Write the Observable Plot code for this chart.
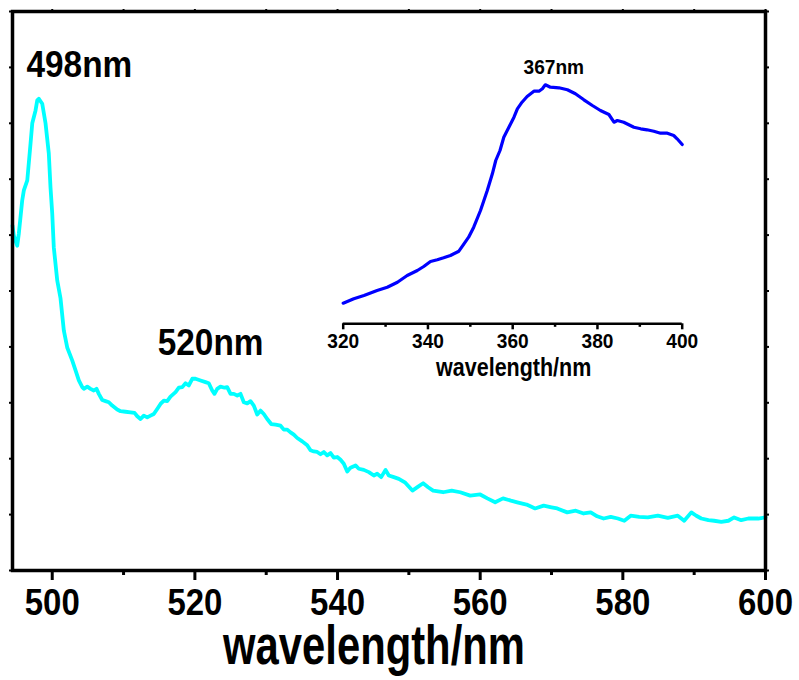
<!DOCTYPE html>
<html><head><meta charset="utf-8">
<script src="https://cdn.jsdelivr.net/npm/d3@7"></script>
<script src="https://cdn.jsdelivr.net/npm/@observablehq/plot@0.6"></script>
<style>
body{margin:0;background:#fff;}
#wrap{position:relative;width:799px;height:680px;overflow:hidden;}
#inset{position:absolute;left:300px;top:40px;}
</style></head><body><div id="wrap"><div id="main"></div><div id="inset"></div></div>
<script>
// Main spectrum (cyan): wavelength (nm) and intensity (a.u., in tick units)
const mainWavelength = [494.43,494.62,495.09,495.32,495.79,496.02,496.50,496.96,497.20,497.66,497.90,498.12,498.60,499.06,499.52,499.76,500.00,500.22,500.70,501.16,501.63,502.10,502.80,503.27,503.73,504.21,504.43,504.91,505.37,505.83,506.21,506.53,507.01,507.47,507.94,508.41,509.11,509.58,510.28,510.98,511.54,511.92,512.38,512.84,513.32,513.78,514.24,514.72,515.18,515.65,516.12,516.58,517.29,517.75,518.23,518.69,519.15,519.63,520.09,520.79,521.49,521.95,522.43,522.75,523.13,523.59,524.16,524.53,525.00,525.46,525.94,526.40,526.86,527.34,527.80,528.26,528.74,529.20,529.66,530.14,530.70,531.31,532.01,532.47,532.95,533.41,533.87,534.35,535.05,535.75,536.21,536.67,537.15,537.61,538.08,538.55,539.02,539.48,539.96,540.42,540.88,541.36,541.82,542.52,542.98,543.68,544.39,545.09,545.56,546.12,546.73,547.19,547.89,548.59,549.5,550.5,551.3,552.0,552.7,553.4,554.8,556.0,557.2,558.6,560.0,561.0,562.1,563.2,564.3,565.2,566.5,567.7,568.9,570.0,570.8,572.2,573.4,574.5,575.5,576.4,577.3,578.3,579.3,580.2,581.1,582.3,583.5,584.9,586.3,587.7,588.6,589.6,590.3,591.0,592.0,592.8,593.8,594.8,595.6,596.6,597.6,599.0,600.0];
const mainIntensity = [6.17,5.99,5.81,6.03,6.62,6.80,6.98,7.64,8.00,8.23,8.41,8.44,8.35,8.00,7.46,6.85,6.39,5.78,5.19,4.87,4.29,3.99,3.76,3.58,3.40,3.28,3.25,3.29,3.25,3.22,3.25,3.16,3.05,3.03,3.01,2.95,2.88,2.85,2.84,2.83,2.82,2.76,2.71,2.77,2.74,2.77,2.80,2.89,2.98,3.04,3.03,3.11,3.19,3.27,3.28,3.35,3.31,3.43,3.43,3.40,3.37,3.35,3.22,3.16,3.25,3.29,3.27,3.28,3.16,3.16,3.13,3.16,3.01,2.99,3.03,2.95,2.79,2.86,2.80,2.71,2.62,2.61,2.59,2.52,2.52,2.47,2.43,2.37,2.31,2.24,2.15,2.13,2.12,2.08,2.12,2.06,2.10,2.02,2.03,1.98,1.91,1.77,1.84,1.88,1.82,1.80,1.76,1.70,1.73,1.67,1.80,1.70,1.67,1.64,1.57,1.43,1.50,1.56,1.49,1.43,1.40,1.43,1.40,1.34,1.36,1.29,1.22,1.29,1.25,1.22,1.18,1.11,1.16,1.13,1.11,1.04,1.07,1.02,1.04,0.97,0.93,0.96,0.93,0.89,0.98,0.96,0.95,0.98,0.94,0.98,0.89,1.04,0.98,0.93,0.90,0.89,0.87,0.89,0.95,0.90,0.93,0.93,0.95];

// Inset spectrum (blue)
const insetWavelength = [320,322.5,324.9,328.0,330.4,332.8,335.1,337.5,339.0,340.6,342.2,343.7,345.3,347.3,348.5,349.6,350.8,352.4,354.0,355.2,356.0,357.0,357.9,359.1,360.3,361.1,362.2,363.4,365.0,366.2,367.0,367.7,368.9,370.9,372.9,374.8,376.8,378.8,380.7,382.7,383.9,384.7,386.2,388.6,390.2,391.7,393.3,394.9,396.5,398.0,398.8,400.0];
const insetIntensity = [2.06,2.50,2.83,3.33,3.66,4.16,4.83,5.33,5.73,6.23,6.40,6.60,6.83,7.26,8.00,8.66,9.66,11.33,13.33,15.00,16.33,17.33,18.66,19.66,20.66,21.50,22.16,22.73,23.26,23.26,23.50,23.90,23.66,23.60,23.40,23.00,22.40,21.83,21.33,20.93,20.16,20.33,20.16,19.66,19.50,19.40,19.26,19.06,19.06,18.83,18.50,17.93];

// Ticks and labels
const mainTicks = [500,520,540,560,580,600];
const mainMinorTicks = [510,530,550,570,590];
const mainTopTicks = [500,510,520,530,540,550,560,570,580,590,600];
const mainYTicks = [0,1,2,3,4,5,6,7,8,9,10];
const insetTicks = [320,340,360,380,400];
const insetMinorTicks = [330,350,370,390];
const mainXLabel = "wavelength/nm";
const insetXLabel = "wavelength/nm";
const peakNames = ["498nm","520nm"];
const peakLabelX = [503.8,522.2];
const peakLabelY = [8.82,3.85];
const insetPeakName = ["367nm"];
const insetPeakX = [369.7];
const insetPeakY = [25.03];

const mainData = mainWavelength.map((w,i)=>({w, v: mainIntensity[i]}));
const insetData = insetWavelength.map((w,i)=>({w, v: insetIntensity[i]}));
const peaks = peakNames.map((t,i)=>({t, x: peakLabelX[i], y: peakLabelY[i]}));
const insetPeaks = insetPeakName.map((t,i)=>({t, x: insetPeakX[i], y: insetPeakY[i]}));

const FONT = '"Liberation Sans", Arial, Helvetica, sans-serif';
const blank = () => "";

const main = Plot.plot({
  width: 799, height: 680,
  marginLeft: 12, marginRight: 34, marginTop: 11, marginBottom: 110,
  style: {fontFamily: FONT, fontWeight: "bold", background: "white", color: "black", overflow: "visible"},
  x: {domain: [494.43, 600], label: null},
  y: {domain: [0, 10], label: null},
  marks: [
    Plot.line(mainData, {x: "w", y: "v", stroke: "#00ffff", strokeWidth: 3.8, strokeLinejoin: "round"}),
    Plot.frame({stroke: "black", strokeWidth: 3.5}),
    Plot.axisX({ticks: mainTicks, tickSize: 10, tickPadding: 8, strokeWidth: 3, fontSize: 37, label: null, tickFormat: d => String(d)}),
    Plot.axisX({ticks: mainMinorTicks, tickSize: 5, strokeWidth: 3, tickFormat: blank, label: null}),
    Plot.axisX({anchor: "top", ticks: mainTopTicks, tickSize: 3, strokeWidth: 2, tickFormat: blank, label: null}),
    Plot.axisY({anchor: "left", ticks: mainYTicks, tickSize: 3, strokeWidth: 2, tickFormat: blank, label: null}),
    Plot.axisY({anchor: "right", ticks: mainYTicks, tickSize: 3, strokeWidth: 2, tickFormat: blank, label: null}),
    Plot.text(peaks, {x: "x", y: "y", text: "t", fontSize: 37.5, lineAnchor: "bottom", fill: "black"}),
    Plot.text([mainXLabel], {frameAnchor: "bottom", lineAnchor: "top", dy: 54, dx: -15, fontSize: 55, fill: "black"})
  ]
});

const inset = Plot.plot({
  width: 420, height: 360,
  marginLeft: 42.7, marginRight: 38.3, marginTop: 13.3, marginBottom: 76.7,
  style: {fontFamily: FONT, fontWeight: "bold", background: "transparent", color: "black", overflow: "visible"},
  x: {domain: [320, 400], label: null},
  y: {domain: [0, 27], label: null, axis: null},
  marks: [
    Plot.line(insetData, {x: "w", y: "v", stroke: "#0000ff", strokeWidth: 3.2, strokeLinejoin: "round"}),
    Plot.ruleY([0], {stroke: "black", strokeWidth: 2.5}),
    Plot.axisX({ticks: insetTicks, tickSize: 6, tickPadding: 3.7, strokeWidth: 2.5, fontSize: 21, label: null, tickFormat: d => String(d)}),
    Plot.axisX({ticks: insetMinorTicks, tickSize: 3.5, strokeWidth: 2.5, tickFormat: blank, label: null}),
    Plot.text(insetPeaks, {x: "x", y: "y", text: "t", fontSize: 21, lineAnchor: "bottom", fill: "black"}),
    Plot.text([insetXLabel], {frameAnchor: "bottom", lineAnchor: "top", dy: 34.7, dx: 1, fontSize: 25, fill: "black"})
  ]
});

function condense(svg, pick) {
  svg.querySelectorAll("text").forEach(t => {
    const s = pick(t.textContent);
    if (!s || s === 1) return;
    const x = +(t.getAttribute("x") || 0);
    t.removeAttribute("x");
    const tr = t.getAttribute("transform") || "";
    t.setAttribute("transform", `${tr} translate(${x},0) scale(${s},1)`);
  });
}
condense(main, s => s.includes("wavelength") ? 0.76 : 0.89);
condense(inset, s => s.includes("wavelength") ? 0.86 : 0.91);

document.getElementById("main").appendChild(main);
document.getElementById("inset").appendChild(inset);
</script></body></html>
